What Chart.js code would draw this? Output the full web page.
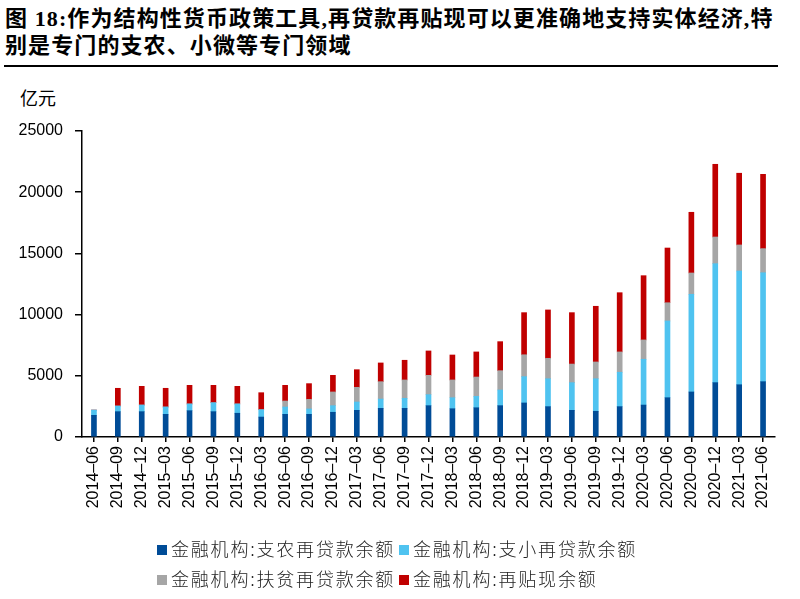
<!DOCTYPE html>
<html>
<head>
<meta charset="utf-8">
<script src="https://cdn.jsdelivr.net/npm/chart.js@4.4.1/dist/chart.umd.min.js"></script>
<style>
  body { margin: 0; width: 800px; height: 599px; position: relative; background: #fff; overflow: hidden; }
  #title { position: absolute; left: 5px; top: 5px; width: 795px; font: bold 22px "Liberation Serif", "Noto Sans CJK SC", serif; line-height: 27px; color: #000; letter-spacing: 1.1px; white-space: nowrap; }
  #rule { position: absolute; left: 4px; top: 65px; width: 774px; height: 2px; background: #000; }
  #unit { position: absolute; left: 20px; top: 84px; font: 18px "Noto Sans CJK SC", sans-serif; color: #000; }
  #chart { position: absolute; left: 0; top: 0; }
  .lg { position: absolute; font: 300 18px "Noto Sans CJK SC", sans-serif; letter-spacing: 1.8px; color: #222; white-space: nowrap; line-height: 20px; }
  .lg span { display: inline-block; width: 10px; height: 10px; margin-right: 4px; vertical-align: 1px; }
</style>
</head>
<body>
<div id="title">图 18:作为结构性货币政策工具,再贷款再贴现可以更准确地支持实体经济,特<br>别是专门的支农、小微等专门领域</div>
<div id="rule"></div>
<div id="unit">亿元</div>
<canvas id="chart" width="800" height="599"></canvas>
<div id="legend"></div>
<script>
// quarters
const quarters = ['2014-06','2014-09','2014-12','2015-03','2015-06','2015-09','2015-12','2016-03','2016-06','2016-09',
  '2016-12','2017-03','2017-06','2017-09','2017-12','2018-03','2018-06','2018-09','2018-12','2019-03',
  '2019-06','2019-09','2019-12','2020-03','2020-06','2020-09','2020-12','2021-03','2021-06'];

// 亿元
const zhinong = [1770,2070,2070,1850,2150,2070,1940,1630,1850,1850,2020,2180,2340,2340,2560,2310,2390,2560,2780,2480,2180,2100,2480,2610,3210,3680,4440,4270,4520];
const zhixiao = [430,460,540,600,550,730,760,600,600,440,540,680,760,820,900,900,930,1280,2150,2280,2260,2660,2810,3740,6270,7980,9720,9290,8900];
const fupin = [0,0,0,0,0,0,0,0,490,790,1120,1200,1420,1500,1580,1450,1580,1580,1790,1670,1520,1370,1660,1580,1490,1740,2180,2130,1970];
const tiexian = [0,1450,1530,1530,1520,1420,1440,1390,1280,1280,1360,1440,1530,1610,1990,2040,2050,2370,3440,3950,4200,4550,4840,5250,4470,4960,5940,5860,6070];

const names = ['金融机构:支农再贷款余额','金融机构:支小再贷款余额','金融机构:扶贫再贷款余额','金融机构:再贴现余额'];
const colors = ['#004C97','#4FC3F0','#A6A6A6','#C00000'];
const yTicks = [0,5000,10000,15000,20000,25000];

const series = [zhinong, zhixiao, fupin, tiexian];

new Chart(document.getElementById('chart'), {
  type: 'bar',
  data: {
    labels: quarters,
    datasets: series.map((d, i) => ({
      label: names[i],
      data: d,
      backgroundColor: colors[i],
      barThickness: 5,
      borderWidth: 0
    }))
  },
  options: {
    responsive: false,
    animation: false,
    layout: { padding: { left: 0, right: 25, top: 131, bottom: 82 } },
    plugins: { legend: { display: false }, tooltip: { enabled: false } },
    scales: {
      x: {
        stacked: true,
        grid: { offset: false, drawOnChartArea: false, tickLength: 5, color: '#000', lineWidth: 1.5 },
        border: { color: '#000', width: 1.5 },
        ticks: {
          minRotation: 90, maxRotation: 90, autoSkip: false, padding: 4,
          color: '#000', font: { family: 'Liberation Sans', size: 16 },
          callback: function (v) { return this.getLabelForValue(v).replace('-', '\u2013'); }
        },
        afterFit: s => { s.height = 80; }
      },
      y: {
        stacked: true,
        min: yTicks[0], max: yTicks[yTicks.length - 1],
        grid: { drawOnChartArea: false, tickLength: 7, color: '#000', lineWidth: 1.5 },
        border: { color: '#000', width: 1.5 },
        ticks: {
          stepSize: 5000, padding: 12, color: '#000', font: { family: 'Liberation Sans', size: 16 },
          callback: v => String(v)
        },
        afterFit: s => { s.width = 82; }
      }
    }
  }
});

// legend, two per row
const lgPos = [[157, 538], [399, 538], [157, 568], [399, 568]];
const lg = document.getElementById('legend');
names.forEach((n, i) => {
  const d = document.createElement('div');
  d.className = 'lg';
  d.style.left = lgPos[i][0] + 'px';
  d.style.top = lgPos[i][1] + 'px';
  d.innerHTML = '<span style="background:' + colors[i] + '"></span>' + n;
  lg.appendChild(d);
});
</script>
</body>
</html>
